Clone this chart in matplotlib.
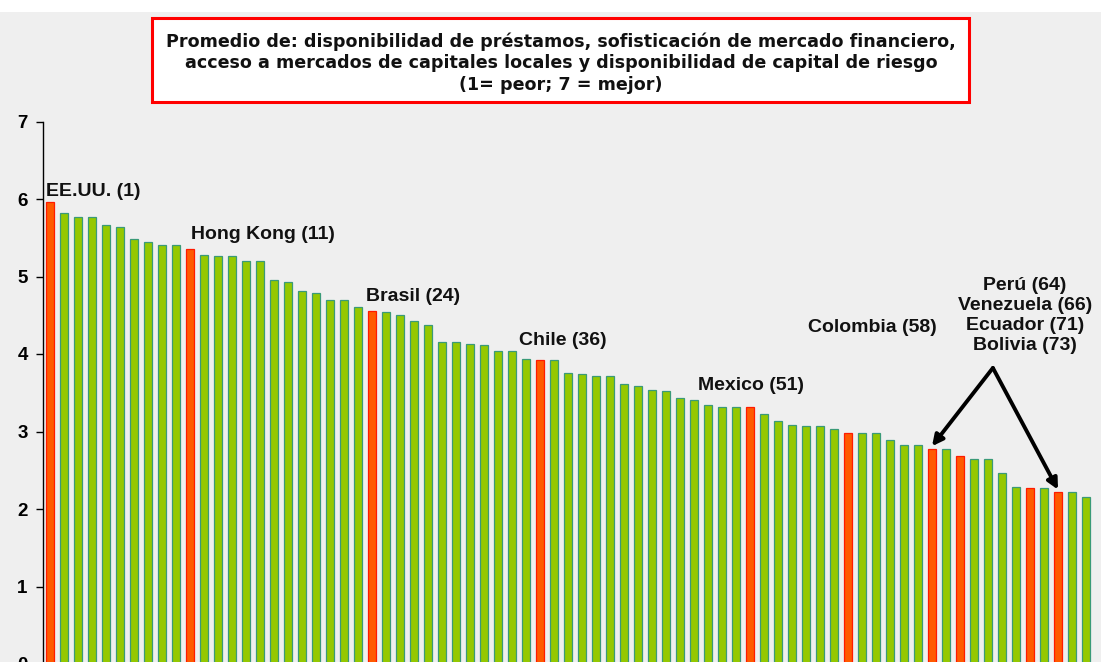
import numpy as np
import matplotlib.pyplot as plt
from matplotlib.patches import Rectangle

# puntaje promedio por pais, ordenado por ranking (1 = EE.UU.)
valores = [5.96, 5.82, 5.77, 5.77, 5.66, 5.64, 5.48, 5.44, 5.41, 5.41,
           5.35, 5.28, 5.26, 5.26, 5.20, 5.20, 4.95, 4.93, 4.81, 4.79,
           4.70, 4.70, 4.61, 4.55, 4.54, 4.50, 4.43, 4.37, 4.15, 4.15,
           4.13, 4.12, 4.04, 4.04, 3.94, 3.92, 3.92, 3.75, 3.74, 3.72,
           3.72, 3.61, 3.59, 3.54, 3.52, 3.43, 3.41, 3.34, 3.32, 3.32,
           3.32, 3.22, 3.14, 3.09, 3.07, 3.07, 3.03, 2.98, 2.98, 2.98,
           2.89, 2.82, 2.82, 2.78, 2.78, 2.69, 2.65, 2.65, 2.47, 2.29,
           2.27, 2.27, 2.22, 2.22, 2.15]

# rankings resaltados en rojo
rojos = [1, 11, 24, 36, 51, 58, 64, 66, 71, 73]
etiquetas = ['EE.UU. (1)', 'Hong Kong (11)', 'Brasil (24)', 'Chile (36)',
             'Mexico (51)', 'Colombia (58)']
grupo_andino = ['Perú (64)', 'Venezuela (66)', 'Ecuador (71)', 'Bolivia (73)']
yticks = [0, 1, 2, 3, 4, 5, 6, 7]

titulo = ('Promedio de: disponibilidad de préstamos, sofisticación de mercado financiero,\n'
          'acceso a mercados de capitales locales y disponibilidad de capital de riesgo\n'
          '(1= peor; 7 = mejor)')

W, H = 1101, 662
fig = plt.figure(figsize=(W / 100, H / 100), dpi=100)
fig.patch.set_facecolor('#efefef')
# franja blanca arriba
fig.patches.append(Rectangle((0, 1 - 12 / H), 1, 12 / H, transform=fig.transFigure,
                             facecolor='white', edgecolor='none', zorder=0))

ax = fig.add_axes([43 / W, (H - 664) / H, 1050 / W, 542.5 / H])
ax.patch.set_alpha(0)

x = np.arange(len(valores))
fill = ['#ff5a00' if (i + 1) in rojos else '#95c800' for i in x]
edge = ['#ff1a00' if (i + 1) in rojos else '#3a9a78' for i in x]
ax.bar(x, valores, width=0.56, color=fill, edgecolor=edge, linewidth=0.9)

ax.set_xlim(-0.5, len(valores) - 0.5)
ax.set_ylim(0, 7)
ax.set_yticks(yticks)
ax.set_xticks([])
for s in ['top', 'right']:
    ax.spines[s].set_visible(False)
ax.spines['left'].set_color('black')
ax.spines['left'].set_linewidth(1.0)
ax.spines['bottom'].set_color('#777777')
ax.tick_params(axis='y', direction='out', length=5, width=1, pad=6)
for lab in ax.get_yticklabels():
    lab.set_fontfamily('Liberation Sans')
    lab.set_fontweight('bold')
    lab.set_fontsize(13.5)

fnt = dict(family='Liberation Sans', weight='bold', fontsize=14, color='#111111')
pos = [(-0.25, 6.10), (10.05, 5.54), (22.6, 4.74), (33.5, 4.18),
       (46.3, 3.59), (54.15, 4.34)]
for t, (px, py) in zip(etiquetas, pos):
    ax.text(px, py, t, ha='left', va='center', **fnt)

ax.text(69.65, 4.50, '\n'.join(grupo_andino), ha='center', va='center',
        linespacing=1.22, **fnt)

# flechas hacia Peru y Bolivia
for r in [64, 73]:
    ax.annotate('', xy=(r - 1, valores[r - 1] + 0.03), xytext=(67.35, 3.82),
                arrowprops=dict(arrowstyle='-|>', color='black', lw=2.8,
                                mutation_scale=16, shrinkA=0, shrinkB=0))

# recuadro del titulo
fig.patches.append(Rectangle((152 / W, (H - 102) / H), 817 / W, 84 / H,
                             transform=fig.transFigure, facecolor='white',
                             edgecolor='#ff0000', linewidth=2.2, zorder=1))
fig.text(561 / W, (H - 63) / H, titulo, ha='center', va='center',
         fontsize=12.6, fontweight='bold', family='DejaVu Sans',
         color='#111111', linespacing=1.25, zorder=2)

fig.savefig('out.png', dpi=100, facecolor=fig.get_facecolor())
